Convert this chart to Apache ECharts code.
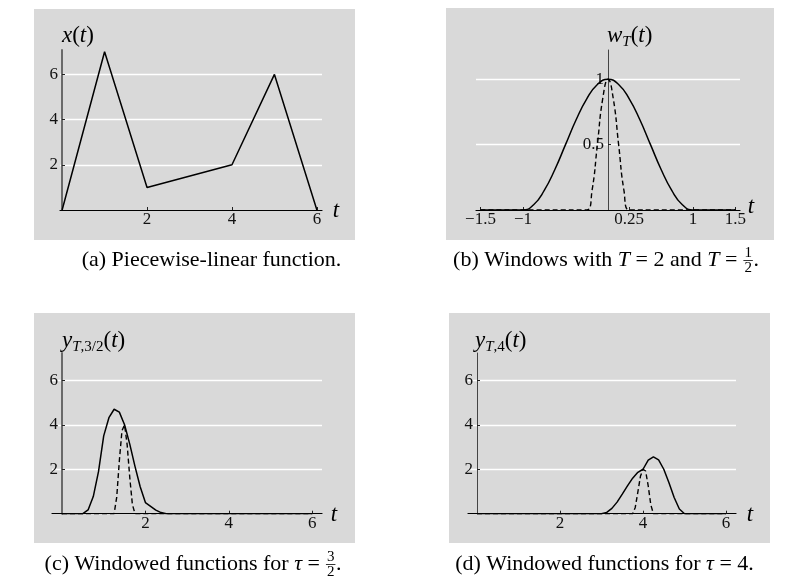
<!DOCTYPE html>
<html>
<head>
<meta charset="utf-8">
<script src="https://cdn.jsdelivr.net/npm/echarts@6.0.0/dist/echarts.min.js"></script>
<style>
  html, body { margin: 0; padding: 0; background: #fff; }
  #chart { width: 806px; height: 581px; }
</style>
</head>
<body>
<div id="chart"></div>
<script>
// (a) piecewise-linear x(t)
var tA = [0, 1, 2, 4, 5, 6];
var xA = [0, 7, 1, 2, 6, 0];

// (b) windows, T = 2 (solid) and T = 1/2 (dashed)
var tB = [-1.5, -1, -0.875, -0.75, -0.625, -0.5, -0.375, -0.25, -0.125, 0, 0.125, 0.25, 0.375, 0.5, 0.625, 0.75, 0.875, 1, 1.5];
var wLong = [0, 0, 0.04, 0.15, 0.31, 0.5, 0.69, 0.85, 0.96, 1, 0.96, 0.85, 0.69, 0.5, 0.31, 0.15, 0.04, 0, 0];
var tBs = [-1.5, -0.25, -0.1875, -0.125, -0.0625, 0, 0.0625, 0.125, 0.1875, 0.25, 1.5];
var wShort = [0, 0, 0.15, 0.5, 0.85, 1, 0.85, 0.5, 0.15, 0, 0];

// (c) windowed, tau = 3/2
var tC = [0, 0.5, 0.625, 0.75, 0.875, 1, 1.125, 1.25, 1.375, 1.5, 1.625, 1.75, 1.875, 2, 2.125, 2.25, 2.375, 2.5, 6];
var yCLong = [0, 0, 0.17, 0.77, 1.89, 3.5, 4.32, 4.7, 4.57, 4, 3.13, 2.13, 1.21, 0.5, 0.33, 0.16, 0.05, 0, 0];
var tCs = [0, 1.25, 1.3125, 1.375, 1.4375, 1.5, 1.5625, 1.625, 1.6875, 1.75, 6];
var yCShort = [0, 0, 0.75, 2.38, 3.73, 4, 3.1, 1.63, 0.42, 0, 0];

// (d) windowed, tau = 4
var tD = [0, 3, 3.125, 3.25, 3.375, 3.5, 3.625, 3.75, 3.875, 4, 4.125, 4.25, 4.375, 4.5, 4.625, 4.75, 4.875, 5, 6];
var yDLong = [0, 0, 0.06, 0.24, 0.52, 0.88, 1.25, 1.6, 1.86, 2, 2.41, 2.56, 2.42, 2, 1.39, 0.73, 0.21, 0, 0];
var tDs = [0, 3.75, 3.8125, 3.875, 3.9375, 4, 4.0625, 4.125, 4.1875, 4.25, 6];
var yDShort = [0, 0, 0.28, 0.97, 1.68, 2, 1.92, 1.25, 0.4, 0, 0];

// tick labels
var ticksT = [2, 4, 6];
var ticksY = [2, 4, 6];
var ticksTB = [-1.5, -1, 0.25, 1, 1.5];
var ticksWB = [0.5, 1];

var FONT = 'Liberation Serif';

function pts(ts, vs) {
    return ts.map(function(t, i) { return [t, vs[i]]; });
}

function xAxisFor(gi, min, max, ticks) {
    return {
        type: 'value', gridIndex: gi, min: min, max: max,
        axisLine: { show: true, onZero: false, lineStyle: { color: '#000', width: 1.2 } },
        axisTick: { show: true, inside: true, length: 3, customValues: ticks, lineStyle: { color: '#222' } },
        axisLabel: {
            customValues: ticks, margin: 1, fontFamily: FONT, fontSize: 17, color: '#111',
            formatter: function(v) { return String(v).replace('-', '\u2212'); }
        },
        splitLine: { show: false }
    };
}

// offset: 把y轴移到 t=0 处
function yAxisFor(gi, max, interval, ticks, line, offset) {
    return {
        type: 'value', gridIndex: gi, min: 0, max: max, interval: interval, offset: offset,
        axisLine: { show: true, onZero: false, lineStyle: line },
        axisTick: { show: true, inside: true, length: 3, customValues: ticks, lineStyle: { color: '#222' } },
        axisLabel: { customValues: ticks, margin: 4, fontFamily: FONT, fontSize: 17, color: '#111' },
        splitLine: { show: true, interval: 0, lineStyle: { color: '#fff', width: 1.3 } }
    };
}

function solid(i, data, smooth) {
    return { type: 'line', xAxisIndex: i, yAxisIndex: i, data: data, symbol: 'none', smooth: !!smooth,
        lineStyle: { color: '#000', width: 1.5 }, z: 4 };
}
function dashed(i, data, smooth) {
    return { type: 'line', xAxisIndex: i, yAxisIndex: i, data: data, symbol: 'none', smooth: !!smooth,
        lineStyle: { color: '#000', width: 1.4, type: [5, 3] }, z: 3 };
}

// 文字宽度
var mctx = document.createElement('canvas').getContext('2d');
function textW(str, font) {
    mctx.font = font;
    return mctx.measureText(str).width;
}

var els = [];

// 灰色背景
[[34, 9, 321, 231], [446, 8, 328, 232], [34, 313, 321, 230], [449, 313, 321, 230]].forEach(function(r) {
    els.push({ type: 'rect', z: -10, shape: { x: r[0], y: r[1], width: r[2], height: r[3] }, style: { fill: '#d9d9d9' } });
});

var rich = {
    i: { fontFamily: FONT, fontStyle: 'italic', fontSize: 23, lineHeight: 28, fill: '#000' },
    r: { fontFamily: FONT, fontSize: 23, lineHeight: 28, fill: '#000' },
    si: { fontFamily: FONT, fontStyle: 'italic', fontSize: 15, lineHeight: 15, verticalAlign: 'bottom', fill: '#000' },
    sr: { fontFamily: FONT, fontSize: 15, lineHeight: 15, verticalAlign: 'bottom', fill: '#000' }
};

function mathLabel(x, y, str) {
    els.push({ type: 'text', z: 10, x: x, y: y,
        style: { text: str, rich: rich, align: 'left', verticalAlign: 'middle', textAlign: 'left', textVerticalAlign: 'middle' } });
}
function tLabel(x, y) {
    els.push({ type: 'text', z: 10, x: x, y: y,
        style: { text: 't', font: 'italic 23px "' + FONT + '"', fill: '#000', align: 'center', verticalAlign: 'middle', textAlign: 'center', textVerticalAlign: 'middle' } });
}

mathLabel(62, 36, '{i|x}{r|(}{i|t}{r|)}');
mathLabel(607, 36, '{i|w}{si|T}{r|(}{i|t}{r|)}');
mathLabel(62, 341, '{i|y}{si|T}{sr|,3/2}{r|(}{i|t}{r|)}');
mathLabel(475, 341, '{i|y}{si|T}{sr|,4}{r|(}{i|t}{r|)}');
tLabel(336, 211);
tLabel(751, 207);
tLabel(334, 515);
tLabel(750, 515);

// 标题
function caption(cx, cy, parts) {
    var fn = '22px "' + FONT + '"', fi = 'italic 22px "' + FONT + '"', ff = '15px "' + FONT + '"';
    var total = 0;
    parts.forEach(function(p) {
        if (p.num) p.w = Math.max(textW(p.num, ff), textW(p.den, ff)) + 3;
        else p.w = textW(p.t, p.it ? fi : fn);
        total += p.w;
    });
    var x = cx - total / 2;
    parts.forEach(function(p) {
        if (p.num) {
            els.push({ type: 'text', z: 10, x: x + p.w / 2, y: cy - 7,
                style: { text: p.num, font: ff, fill: '#000', align: 'center', verticalAlign: 'middle', textAlign: 'center', textVerticalAlign: 'middle' } });
            els.push({ type: 'text', z: 10, x: x + p.w / 2, y: cy + 8,
                style: { text: p.den, font: ff, fill: '#000', align: 'center', verticalAlign: 'middle', textAlign: 'center', textVerticalAlign: 'middle' } });
            els.push({ type: 'line', z: 10, shape: { x1: x + 0.5, y1: cy + 0.5, x2: x + p.w - 0.5, y2: cy + 0.5 },
                style: { stroke: '#000', lineWidth: 0.8 } });
        } else {
            els.push({ type: 'text', z: 10, x: x, y: cy,
                style: { text: p.t, font: p.it ? fi : fn, fill: '#000', align: 'left', verticalAlign: 'middle', textAlign: 'left', textVerticalAlign: 'middle' } });
        }
        x += p.w;
    });
}

caption(211.5, 260, [{ t: '(a) Piecewise-linear function.' }]);
caption(606, 260, [{ t: '(b) Windows with ' }, { t: 'T', it: true }, { t: ' = 2 and ' }, { t: 'T', it: true }, { t: ' = ' }, { num: '1', den: '2' }, { t: '.' }]);
caption(193, 564, [{ t: '(c) Windowed functions for ' }, { t: '\u03c4', it: true }, { t: ' = ' }, { num: '3', den: '2' }, { t: '.' }]);
caption(604.5, 564, [{ t: '(d) Windowed functions for ' }, { t: '\u03c4', it: true }, { t: ' = 4.' }]);

var option = {
    animation: false,
    backgroundColor: '#fff',
    grid: [
        { left: 60, top: 50, width: 262, height: 160 },
        { left: 476, top: 50, width: 264, height: 160 },
        { left: 52, top: 353, width: 270, height: 160.7 },
        { left: 468, top: 353, width: 268, height: 160.7 }
    ],
    xAxis: [
        xAxisFor(0, -0.05, 6.12, ticksT),
        xAxisFor(1, -1.553, 1.553, ticksTB),
        xAxisFor(2, -0.24, 6.235, ticksT),
        xAxisFor(3, -0.217, 6.24, ticksT)
    ],
    yAxis: [
        yAxisFor(0, 7.08, 2, ticksY, { color: '#6a6a6a', width: 2 }, -2),
        yAxisFor(1, 1.224, 0.5, ticksWB, { color: '#444', width: 1 }, -132),
        yAxisFor(2, 7.23, 2, ticksY, { color: '#6a6a6a', width: 2 }, -10),
        yAxisFor(3, 7.23, 2, ticksY, { color: '#444', width: 1 }, -9)
    ],
    series: [
        solid(0, pts(tA, xA)),
        solid(1, pts(tB, wLong), true),
        dashed(1, pts(tBs, wShort), true),
        solid(2, pts(tC, yCLong)),
        dashed(2, pts(tCs, yCShort)),
        solid(3, pts(tD, yDLong)),
        dashed(3, pts(tDs, yDShort))
    ],
    graphic: { elements: els }
};

var chart = echarts.init(document.getElementById('chart'));
chart.setOption(option);
</script>
</body>
</html>
